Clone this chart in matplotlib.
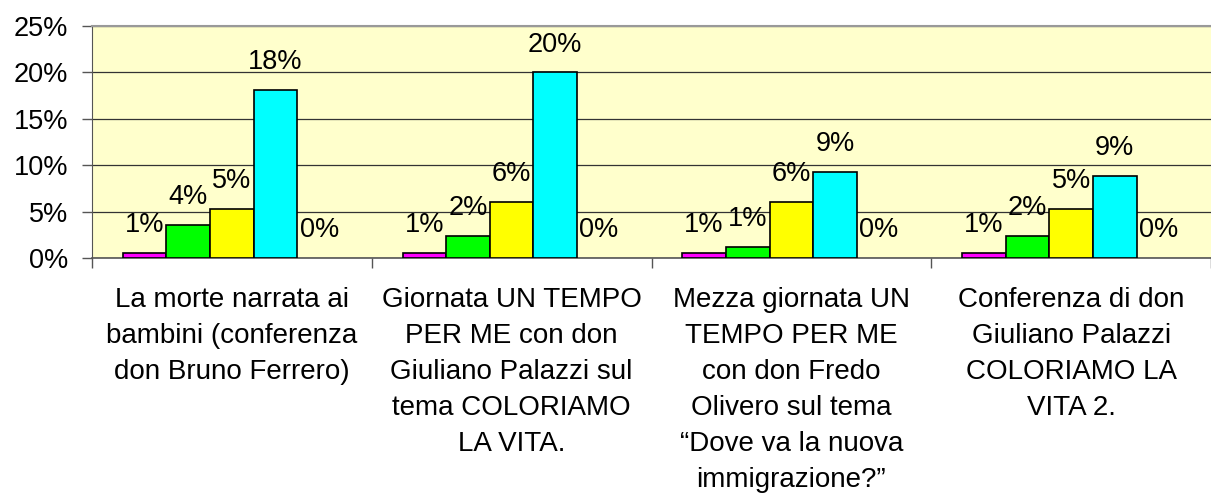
import matplotlib
matplotlib.use("Agg")
import matplotlib.pyplot as plt
import numpy as np
from matplotlib.ticker import FuncFormatter, MultipleLocator

plt.rcParams['font.family'] = ['Liberation Sans', 'DejaVu Sans']

categories = [
    "La morte narrata ai\nbambini (conferenza\ndon Bruno Ferrero)",
    "Giornata UN TEMPO\nPER ME con don\nGiuliano Palazzi sul\ntema COLORIAMO\nLA VITA.",
    "Mezza giornata UN\nTEMPO PER ME\ncon don Fredo\nOlivero sul tema\n\u201cDove va la nuova\nimmigrazione?\u201d",
    "Conferenza di don\nGiuliano Palazzi\nCOLORIAMO LA\nVITA 2.",
]
series_magenta = [0.55, 0.55, 0.55, 0.55]
series_green = [3.55, 2.37, 1.2, 2.37]
series_yellow = [5.28, 6.0, 6.0, 5.25]
series_cyan = [18.1, 20.0, 9.27, 8.84]
series_zero = [0.0, 0.0, 0.0, 0.0]
series = [series_magenta, series_green, series_yellow, series_cyan, series_zero]
colors = ["#FF00FF", "#00FF00", "#FFFF00", "#00FFFF", "#800080"]

fig = plt.figure(figsize=(12.11, 4.98), dpi=100)
ax = fig.add_axes([92 / 1211, 1 - 258 / 498, 1 - 92 / 1211, (258 - 26) / 498])
ax.set_facecolor("#FFFFCC")

x = np.arange(len(categories))
w = 0.156
fs = 19.5
for i, (vals, c) in enumerate(zip(series, colors)):
    pos = x + (i - 2) * w
    ax.bar(pos, vals, width=w, color=c, edgecolor="black",
           linewidth=1.2 if i < 4 else 0, zorder=3)
    for p, v in zip(pos, vals):
        ax.annotate(f"{int(np.floor(v + 0.5))}%", xy=(p, v), xytext=(0, 15),
                    textcoords="offset points", ha="center", va="baseline",
                    fontsize=fs, color="black", zorder=4)

ax.set_ylim(0, 25)
ax.set_xlim(-0.5, 3.5)
ax.yaxis.set_major_locator(MultipleLocator(5))
ax.yaxis.set_major_formatter(FuncFormatter(lambda v, _: f"{int(v)}%"))
ax.grid(axis="y", color="#333333", linewidth=0.9, zorder=1)
ax.set_axisbelow(True)

ax.set_xticks([-0.5, 0.5, 1.5, 2.5, 3.5])
ax.set_xticklabels([])
ax.set_xticks(x, minor=True)
ax.set_xticklabels(categories, minor=True, fontsize=20, linespacing=1.5, va="top")
ax.tick_params(axis="x", which="minor", length=0, pad=21)
ax.tick_params(axis="x", which="major", length=7, width=1, color="#555555", direction="out")
ax.tick_params(axis="y", length=7, width=1, color="#555555", labelsize=fs, pad=10)

ax.spines["right"].set_visible(False)
ax.spines["top"].set_color("#999999")
ax.spines["top"].set_linewidth(1.5)
ax.spines["left"].set_color("#555555")
ax.spines["bottom"].set_color("#555555")
ax.spines["bottom"].set_linewidth(1.2)

fig.savefig("out.png", dpi=100)
